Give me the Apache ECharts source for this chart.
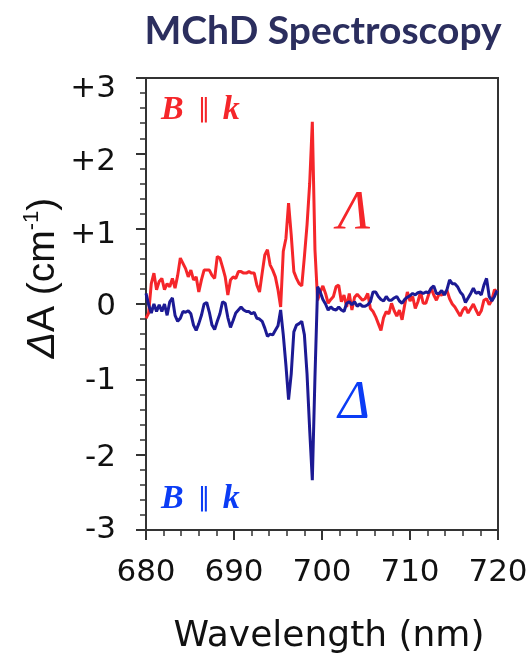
<!DOCTYPE html>
<html>
<head>
<meta charset="utf-8">
<script src="https://cdn.jsdelivr.net/npm/echarts@6/dist/echarts.min.js"></script>
<style>
  html, body { margin: 0; padding: 0; background: #ffffff; }
  #chart { width: 526px; height: 660px; }
</style>
</head>
<body>
<div id="chart"></div>
<script>
// Sampling grid of the spectra (nm)
const wavelengthStart = 680;
const wavelengthStep = 0.3;

// Magnetochiral dichroism, ΔA (cm^-1), Λ enantiomer, B ∥ k
const lambdaSpectrum = [
  -0.19, -0.12, 0.27, 0.41, 0.19, 0.30, 0.34, 0.19, 0.27, 0.23,
  0.34, 0.21, 0.38, 0.61, 0.54, 0.47, 0.36, 0.45, 0.32, 0.36,
  0.16, 0.32, 0.45, 0.45, 0.45, 0.38, 0.34, 0.63, 0.61, 0.49,
  0.36, 0.12, 0.32, 0.36, 0.34, 0.43, 0.43, 0.41, 0.41, 0.43,
  0.41, 0.41, 0.25, 0.16, 0.41, 0.65, 0.72, 0.52, 0.45, 0.36,
  0.19, -0.04, 0.70, 0.87, 1.34, 0.92, 0.43, 0.34, 0.27, 0.24,
  0.63, 1.05, 1.60, 2.42, 0.72, 0.05, 0.16, 0.24, 0.14, 0.01,
  0.06, 0.10, 0.23, 0.25, 0.03, 0.12, -0.04, 0.14, -0.08, 0.09,
  0.13, 0.09, 0.05, 0.07, 0.14, -0.06, -0.10, -0.17, -0.26, -0.35,
  -0.18, -0.10, -0.13, 0.01, -0.09, -0.16, -0.08, -0.21, -0.01, 0.16,
  0.04, 0.10, -0.06, 0.03, 0.16, 0.01, 0.01, 0.12, 0.21, 0.12,
  0.05, 0.13, 0.12, 0.14, 0.18, 0.07, 0.00, -0.04, -0.10, -0.16,
  -0.08, -0.04, -0.12, -0.06, 0.00, -0.08, -0.15, -0.09, 0.05, 0.07,
  -0.01, 0.05, 0.19, 0.16
];

// Magnetochiral dichroism, ΔA (cm^-1), Δ enantiomer, B ∥ k
const deltaSpectrum = [
  0.14, -0.01, -0.12, 0.00, -0.10, -0.01, -0.10, 0.00, -0.15, 0.03,
  0.08, -0.15, -0.23, -0.19, -0.10, -0.11, -0.09, -0.13, -0.28, -0.35,
  -0.26, -0.15, 0.00, 0.02, -0.11, -0.28, -0.34, -0.23, -0.13, 0.03,
  0.01, -0.18, -0.31, -0.22, -0.12, -0.08, -0.04, -0.08, -0.10, -0.10,
  -0.13, -0.11, -0.19, -0.20, -0.23, -0.32, -0.43, -0.40, -0.41, -0.35,
  -0.29, -0.08, -0.41, -0.81, -1.27, -0.93, -0.37, -0.28, -0.26, -0.23,
  -0.41, -0.93, -1.67, -2.34, -0.97, 0.23, 0.16, 0.06, 0.00, -0.08,
  -0.04, -0.07, -0.08, -0.04, -0.08, -0.10, 0.01, 0.03, -0.01, 0.03,
  -0.03, 0.00, -0.03, -0.03, -0.01, 0.03, 0.16, 0.16, 0.10, 0.06,
  0.04, 0.10, 0.05, 0.05, 0.08, 0.10, 0.04, 0.01, 0.06, 0.09,
  0.11, 0.14, 0.12, 0.15, 0.16, 0.14, 0.16, 0.15, 0.21, 0.24,
  0.14, 0.14, 0.18, 0.12, 0.19, 0.32, 0.27, 0.27, 0.23, 0.16,
  0.12, 0.02, 0.08, 0.14, 0.21, 0.14, 0.16, 0.12, 0.25, 0.34,
  0.10, 0.04, 0.10, 0.18
];

// Axis ticks
const xTicks = [680, 690, 700, 710, 720];
const yTicks = [-3, -2, -1, 0, 1, 2, 3];
const yTickLabels = ['-3', '-2', '-1', '0', '+1', '+2', '+3'];
// small downward nudge of each y tick label (px)
const yLabelDrop = [0, 3, 2, 3, 6, 9, 11];

const RED = '#f5262a';
const NAVY = '#1c1a94';
const BLUE_TEXT = '#0b3cf5';
const FRAME = '#333333';

function toPairs(values) {
  return values.map((v, i) => [+(wavelengthStart + i * wavelengthStep).toFixed(1), v]);
}

const yLabelRich = {};
yLabelDrop.forEach((d, i) => {
  yLabelRich['t' + i] = {
    fontFamily: 'DejaVu Sans', fontSize: 31, color: '#111111',
    padding: [2 * d, 0, 0, 0]
  };
});

const chart = echarts.init(document.getElementById('chart'), null, { renderer: 'canvas' });

const annotationRich = (color) => ({
  b: { fontFamily: 'Liberation Serif', fontStyle: 'italic', fontWeight: 'bold', fontSize: 34, fill: color },
  p: { fontFamily: 'DejaVu Sans', fontSize: 26, fontWeight: 'normal', fill: color, padding: [0, 12, 0, 14] }
});

chart.setOption({
  animation: false,
  backgroundColor: '#ffffff',
  grid: {
    left: 146, right: 28, top: 78, bottom: 130,
    show: true, borderColor: FRAME, borderWidth: 2,
    outerBoundsMode: 'none'
  },
  xAxis: {
    type: 'value',
    min: xTicks[0], max: xTicks[xTicks.length - 1], interval: 10,
    name: 'Wavelength (nm)',
    nameLocation: 'middle',
    nameGap: 89,
    nameTextStyle: { fontFamily: 'DejaVu Sans', fontSize: 36, color: '#111111', padding: [0, 0, 0, 14] },
    axisLine: { show: true, onZero: false, lineStyle: { color: FRAME, width: 2 } },
    axisTick: { show: true, length: 10, lineStyle: { color: FRAME, width: 2 } },
    minorTick: { show: true, splitNumber: 5, length: 6, lineStyle: { color: FRAME, width: 1.5 } },
    splitLine: { show: false },
    axisLabel: { fontFamily: 'DejaVu Sans', fontSize: 31, color: '#111111', margin: 27 }
  },
  yAxis: {
    type: 'value',
    min: yTicks[0], max: yTicks[yTicks.length - 1], interval: 1,
    axisLine: { show: true, onZero: false, lineStyle: { color: FRAME, width: 2 } },
    axisTick: { show: true, length: 10, lineStyle: { color: FRAME, width: 2 } },
    minorTick: { show: true, splitNumber: 5, length: 6, lineStyle: { color: FRAME, width: 1.5 } },
    splitLine: { show: false },
    axisLabel: {
      fontFamily: 'DejaVu Sans', fontSize: 31, color: '#111111', margin: 30,
      formatter: (v) => {
        const i = yTicks.indexOf(Math.round(v));
        return '{t' + i + '|' + yTickLabels[i] + '}';
      },
      rich: yLabelRich
    }
  },
  series: [
    {
      name: 'Λ',
      type: 'line',
      data: toPairs(lambdaSpectrum),
      showSymbol: false,
      smooth: false,
      lineStyle: { color: RED, width: 3 },
      z: 2
    },
    {
      name: 'Δ',
      type: 'line',
      data: toPairs(deltaSpectrum),
      showSymbol: false,
      smooth: false,
      lineStyle: { color: NAVY, width: 3 },
      z: 3
    }
  ],
  graphic: [
    {
      type: 'text', x: 323, y: 31,
      style: {
        text: 'MChD Spectroscopy',
        fontFamily: 'Lato', fontWeight: 'bold', fontSize: 39,
        fill: '#2b2e5e', align: 'center', verticalAlign: 'middle'
      }
    },
    {
      type: 'text', x: 43, y: 278, rotation: Math.PI / 2,
      style: {
        text: '{d|Δ}A (cm{s|-1})',
        fontFamily: 'Liberation Sans', fontSize: 39, fill: '#111111',
        align: 'center', verticalAlign: 'middle',
        rich: {
          d: { fontFamily: 'Liberation Sans', fontStyle: 'italic', fontSize: 39, fill: '#111111', lineHeight: 44 },
          s: { fontFamily: 'Liberation Sans', fontSize: 22, fill: '#111111', verticalAlign: 'top', lineHeight: 44 }
        }
      }
    },
    {
      type: 'text', x: 161, y: 110,
      style: {
        text: '{b|B}{p|∥}{b|k}',
        fontFamily: 'Liberation Serif', fontSize: 34, fill: RED,
        verticalAlign: 'middle',
        rich: annotationRich(RED)
      }
    },
    {
      type: 'text', x: 161, y: 499,
      style: {
        text: '{b|B}{p|∥}{b|k}',
        fontFamily: 'Liberation Serif', fontSize: 34, fill: BLUE_TEXT,
        verticalAlign: 'middle',
        rich: annotationRich(BLUE_TEXT)
      }
    },
    {
      type: 'text', x: 354, y: 214,
      style: {
        text: 'Λ',
        fontFamily: 'Liberation Serif', fontStyle: 'italic', fontSize: 54, fill: RED,
        align: 'center', verticalAlign: 'middle'
      }
    },
    {
      type: 'text', x: 354, y: 404,
      style: {
        text: 'Δ',
        fontFamily: 'Liberation Serif', fontStyle: 'italic', fontSize: 54, fill: BLUE_TEXT,
        align: 'center', verticalAlign: 'middle'
      }
    }
  ]
});
</script>
</body>
</html>
